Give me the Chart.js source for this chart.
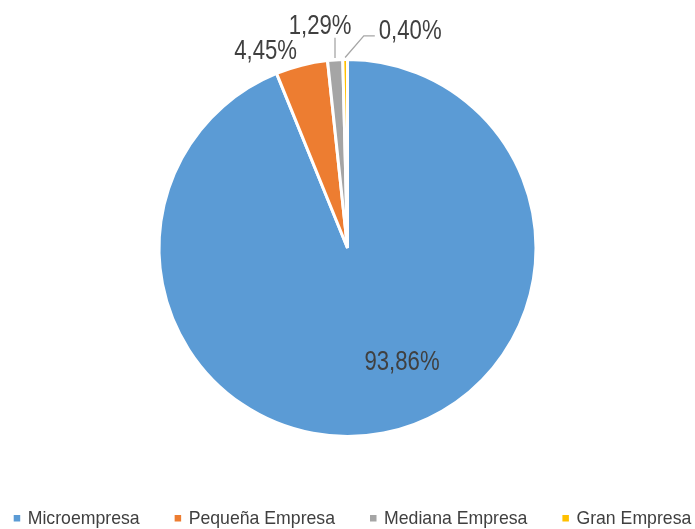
<!DOCTYPE html>
<html><head><meta charset="utf-8">
<script src="https://cdn.jsdelivr.net/npm/chart.js@4.4.0/dist/chart.umd.min.js"></script>
<style>html,body{margin:0;padding:0;background:#fff;overflow:hidden;} #wrap{width:695px;height:529px;position:relative;}</style>
</head><body><div id="wrap"><canvas id="c"></canvas></div>
<script>
const categories = ['Microempresa', 'Pequeña Empresa', 'Mediana Empresa', 'Gran Empresa'];
const shares = [93.86, 4.45, 1.29, 0.40];
const colors = ['#5B9BD5', '#ED7D31', '#A5A5A5', '#FFC000'];

const FONT = '"Liberation Sans", Arial, sans-serif';
const LABEL_SIZE = 27;
const LABEL_SCALE = 0.82;   // horizontal compression to mimic Arial Narrow
const LEGEND_SIZE = 19;
const LEGEND_SCALE = 0.93;
// label placement relative to pie centre, in units of the radius
const labelPlacement = [
  {dx: 0.287, dy: 0.593, leader: null},
  {dx: -0.431, dy: -1.043, leader: null},
  {dx: -0.144, dy: -1.178, leader: 'vertical'},
  {dx: 0.330, dy: -1.152, leader: 'elbow'}
];

const fmt = v => v.toFixed(2).replace('.', ',') + '%';

function scaledWidth(ctx, txt, s) { return ctx.measureText(txt).width * s; }
function scaledText(ctx, txt, x, y, align, s) {
  const w = scaledWidth(ctx, txt, s);
  const left = align === 'center' ? x - w / 2 : x;
  ctx.save();
  ctx.translate(left, y);
  ctx.scale(s, 1);
  ctx.textAlign = 'left';
  ctx.textBaseline = 'alphabetic';
  ctx.fillText(txt, 0, 0);
  ctx.restore();
}

const labelPlugin = {
  id: 'labels',
  afterDatasetsDraw(chart) {
    const ctx = chart.ctx;
    const meta = chart.getDatasetMeta(0);
    ctx.save();
    ctx.font = LABEL_SIZE + 'px ' + FONT;
    ctx.fillStyle = '#404040';
    const cap = LABEL_SIZE * 0.716;
    meta.data.forEach((arc, i) => {
      const p = arc.getProps(['x', 'y', 'startAngle', 'endAngle', 'outerRadius'], true);
      const R = p.outerRadius + 1.5;
      const lp = labelPlacement[i];
      const lx = p.x + R * lp.dx, ly = p.y + R * lp.dy;
      const txt = fmt(shares[i]);
      const w = scaledWidth(ctx, txt, LABEL_SCALE);
      scaledText(ctx, txt, lx, ly + cap / 2, 'center', LABEL_SCALE);
      if (lp.leader) {
        const mid = (p.startAngle + p.endAngle) / 2;
        const ex = p.x + Math.cos(mid) * (R + 0.5), ey = p.y + Math.sin(mid) * (R + 0.5);
        ctx.strokeStyle = '#A6A6A6';
        ctx.lineWidth = 1.3;
        ctx.beginPath();
        ctx.moveTo(ex, ey);
        if (lp.leader === 'vertical') {
          ctx.lineTo(ex, ly + cap / 2 + 4);
        } else {
          const yy = ly + cap / 2 - 3;
          ctx.lineTo(lx - w / 2 - 15, yy);
          ctx.lineTo(lx - w / 2 - 4, yy);
        }
        ctx.stroke();
      }
    });
    ctx.restore();
  }
};

const legendPlugin = {
  id: 'customLegend',
  afterDraw(chart) {
    const ctx = chart.ctx;
    ctx.save();
    ctx.font = LEGEND_SIZE + 'px ' + FONT;
    const box = 6.5, gap = 7.5, sep = 35;
    const widths = categories.map(c => scaledWidth(ctx, c, LEGEND_SCALE));
    const total = widths.reduce((a, w) => a + box + gap + w, 0) + sep * (categories.length - 1);
    let x = chart.width / 2 + 5 - total / 2;
    const base = chart.height - 5;
    categories.forEach((c, i) => {
      ctx.fillStyle = colors[i];
      ctx.fillRect(x, base - 9, box, box);
      ctx.fillStyle = '#404040';
      scaledText(ctx, c, x + box + gap, base, 'left', LEGEND_SCALE);
      x += box + gap + widths[i] + sep;
    });
    ctx.restore();
  }
};

new Chart(document.getElementById('c'), {
  type: 'pie',
  data: {
    labels: categories,
    datasets: [{
      data: shares,
      backgroundColor: colors,
      borderColor: '#ffffff',
      borderWidth: 3
    }]
  },
  options: {
    responsive: true,
    maintainAspectRatio: false,
    animation: false,
    layout: {padding: {top: 58, bottom: 91, left: 0, right: 0}},
    plugins: {legend: {display: false}, tooltip: {enabled: false}}
  },
  plugins: [labelPlugin, legendPlugin]
});
</script>
</body></html>
